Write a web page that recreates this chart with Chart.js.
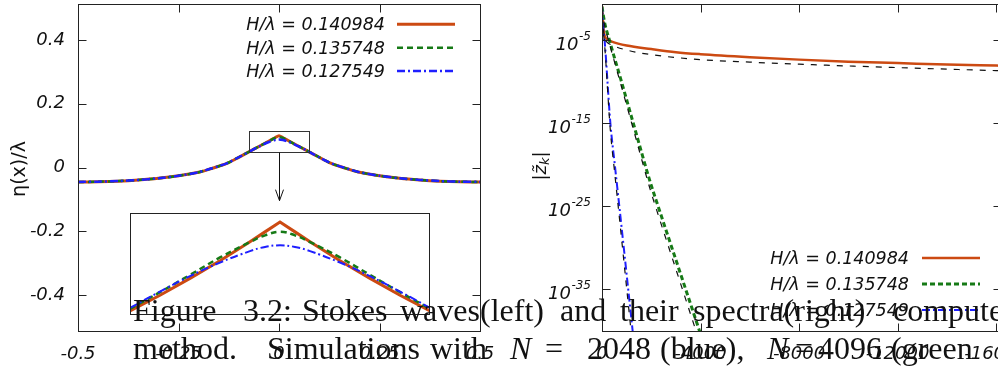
<!DOCTYPE html>
<html lang="en">
<head>
<meta charset="UTF-8">
<title>Stokes waves and spectra</title>
<style>
  html, body { margin: 0; padding: 0; background: #fff; }
  #wrap { position: relative; width: 998px; height: 368px; overflow: hidden; }
  canvas { position: absolute; }
  #waveCanvas { left: 0; top: 0; }
  #insetCanvas { left: 130px; top: 213px; }
  #specCanvas { left: 500px; top: 0; }
  .cap {
    position: absolute; white-space: nowrap; color: #111;
    font-family: "Liberation Serif", serif; font-size: 32px; line-height: 32px;
  }
  .l1 { top: 294px; }
  .l2 { top: 332px; }
  .cap i { font-style: italic; }
</style>
</head>
<body>
<div id="wrap">
  <canvas id="waveCanvas" width="500" height="368"></canvas>
  <canvas id="insetCanvas" width="300" height="102"></canvas>
  <canvas id="specCanvas" width="504" height="368"></canvas>

  <span class="cap l1" style="left:133px">Figure</span>
  <span class="cap l1" style="left:243px">3.2:</span>
  <span class="cap l1" style="left:302px">Stokes</span>
  <span class="cap l1" style="left:400px">waves(left)</span>
  <span class="cap l1" style="left:560px">and</span>
  <span class="cap l1" style="left:620px">their</span>
  <span class="cap l1" style="left:693px">spectra(right)</span>
  <span class="cap l1" style="left:893px">computed</span>

  <span class="cap l2" style="left:133px">method.</span>
  <span class="cap l2" style="left:267px">Simulations</span>
  <span class="cap l2" style="left:430px">with</span>
  <span class="cap l2" style="left:510px"><i>N</i></span>
  <span class="cap l2" style="left:545px">=</span>
  <span class="cap l2" style="left:587px">2048</span>
  <span class="cap l2" style="left:660px">(blue),</span>
  <span class="cap l2" style="left:767px"><i>N</i></span>
  <span class="cap l2" style="left:795px">=</span>
  <span class="cap l2" style="left:818px">4096</span>
  <span class="cap l2" style="left:891px">(green</span>
</div>

<script src="https://cdn.jsdelivr.net/npm/chart.js@4"></script>
<script>
// ---- wave profiles (left) ----
const waveX = [-0.5,-0.45,-0.4,-0.35,-0.3,-0.25,-0.2,-0.175,-0.15,-0.125,-0.1,-0.075,-0.05,-0.025,-0.01,0,
               0.01,0.025,0.05,0.075,0.1,0.125,0.15,0.175,0.2,0.25,0.3,0.35,0.4,0.45,0.5];
const waveRed   = [-0.0455,-0.0448,-0.0428,-0.0392,-0.0340,-0.0262,-0.0150,-0.0060,0.0040,0.0155,0.0320,0.0490,0.0660,0.0830,0.0932,0.1000,
                   0.0932,0.0830,0.0660,0.0490,0.0320,0.0155,0.0040,-0.0060,-0.0150,-0.0262,-0.0340,-0.0392,-0.0428,-0.0448,-0.0455];
const waveGreen = [-0.0454,-0.0447,-0.0427,-0.0391,-0.0339,-0.0261,-0.0149,-0.0059,0.0041,0.0157,0.0322,0.0492,0.0662,0.0825,0.0925,0.0950,
                   0.0925,0.0825,0.0662,0.0492,0.0322,0.0157,0.0041,-0.0059,-0.0149,-0.0261,-0.0339,-0.0391,-0.0427,-0.0447,-0.0454];
const waveBlue  = [-0.0452,-0.0445,-0.0425,-0.0389,-0.0337,-0.0259,-0.0147,-0.0057,0.0043,0.0158,0.0322,0.0490,0.0655,0.0800,0.0862,0.0880,
                   0.0862,0.0800,0.0655,0.0490,0.0322,0.0158,0.0043,-0.0057,-0.0147,-0.0259,-0.0337,-0.0389,-0.0425,-0.0445,-0.0452];
const waveXTicks = [-0.5,-0.25,0,0.25,0.5];
const waveYTicks = [-0.4,-0.2,0,0.2,0.4];

// zoomed crest (inset)
const insetX     = [-0.075,-0.06,-0.045,-0.03,-0.015,-0.0075,0,0.0075,0.015,0.03,0.045,0.06,0.075];
const insetRed   = [0.0513,0.0600,0.0693,0.0790,0.0895,0.0949,0.1003,0.0949,0.0895,0.0790,0.0693,0.0600,0.0513];
const insetGreen = [0.0525,0.0617,0.0712,0.0808,0.0893,0.0930,0.0950,0.0930,0.0893,0.0808,0.0712,0.0617,0.0525];
const insetBlue  = [0.0530,0.0620,0.0705,0.0780,0.0843,0.0866,0.0875,0.0866,0.0843,0.0780,0.0705,0.0620,0.0530];
const zoomBoxX = [-0.075, 0.075];
const zoomBoxY = [0.050, 0.113];
const arrowTipY = -0.104;

// ---- spectra (right), values stored as log10 ----
const redK      = [0,-50,-100,-200,-400,-1000,-2000,-3000,-4000,-6000,-8000,-10000,-12000,-14000,-16000,-16500];
const redExp    = [-0.9,-3.2,-4.4,-4.88,-5.18,-5.66,-6.08,-6.45,-6.69,-7.05,-7.35,-7.6,-7.77,-7.95,-8.07,-8.1];
const fitRedK   = [-50,-100,-200,-400,-1000,-2000,-4000,-6000,-8000,-12000,-16000,-16500];
const fitRedExp = [-3.6,-4.76,-5.24,-5.6,-6.2,-6.75,-7.35,-7.65,-7.9,-8.31,-8.67,-8.71];
const greenK      = [0,-100,-300,-800,-1270,-1970,-2290,-2850,-3400,-3960,-4500];
const greenExp    = [-1.0,-2.8,-5.0,-10.1,-15,-22.2,-25.1,-30.1,-35,-40,-44.8];
const fitGreenExp = [-1.2,-3.1,-5.4,-10.7,-15.7,-23.1,-26.1,-31.2,-36.2,-41.3,-46.2];
const blueK      = [0,-50,-105,-340,-520,-700,-885,-1065,-1245,-1500];
const blueExp    = [-1.0,-3.5,-5.0,-15,-20,-24.9,-30,-35,-40,-47];
const fitBlueExp = [-1.2,-3.8,-5.5,-15.9,-21.1,-26.2,-31.5,-36.7,-41.9,-49];
const specXTicks = [0,-4000,-8000,-12000,-16000];
const specYTicks = [1e-5,1e-15,1e-25,1e-35];

const labels = ['H/\u03bb = 0.140984','H/\u03bb = 0.135748','H/\u03bb = 0.127549'];

const RED = '#cc4a12', GREEN = '#167a16', BLUE = '#1f1fff';
const TICKFONT = { family: 'DejaVu Sans', size: 18, style: 'italic' };

const pts = (xs, ys) => xs.map((x, i) => ({ x: x, y: ys[i] }));
const pow = (xs, es) => xs.map((x, i) => ({ x: x, y: Math.pow(10, es[i]) }));

// gnuplot-like frame with inward ticks on all four sides
const frameTicks = {
  id: 'frameTicks',
  afterDatasetsDraw(chart) {
    const { ctx, chartArea: a, scales } = chart;
    const L = Math.round(a.left) + 0.5, R = Math.round(a.right) + 0.5;
    const T = Math.round(a.top) + 0.5, B = Math.round(a.bottom) + 0.5;
    ctx.save();
    ctx.strokeStyle = '#222'; ctx.lineWidth = 1; ctx.setLineDash([]);
    ctx.strokeRect(L, T, R - L, B - T);
    ctx.beginPath();
    scales.x.ticks.forEach(t => {
      const p = Math.round(scales.x.getPixelForValue(t.value)) + 0.5;
      ctx.moveTo(p, B); ctx.lineTo(p, B - 8);
      ctx.moveTo(p, T); ctx.lineTo(p, T + 8);
    });
    scales.y.ticks.forEach(t => {
      const p = Math.round(scales.y.getPixelForValue(t.value)) + 0.5;
      ctx.moveTo(L, p); ctx.lineTo(L + 8, p);
      ctx.moveTo(R, p); ctx.lineTo(R - 8, p);
    });
    ctx.stroke();
    ctx.restore();
  }
};

function makeLegend(textRight, lineFrom, lineTo, rows) {
  return {
    id: 'gpLegend',
    afterDatasetsDraw(chart) {
      const ctx = chart.ctx;
      ctx.save();
      ctx.font = 'italic 17.5px "DejaVu Sans"';
      ctx.textAlign = 'right';
      ctx.fillStyle = '#111';
      rows.forEach((y, i) => {
        const ds = chart.data.datasets[i];
        ctx.fillText(ds.label, textRight, y + 6);
        ctx.beginPath();
        ctx.setLineDash(ds.borderDash || []);
        ctx.strokeStyle = ds.borderColor;
        ctx.lineWidth = ds.borderWidth;
        ctx.moveTo(lineFrom, y); ctx.lineTo(lineTo, y);
        ctx.stroke();
      });
      ctx.restore();
    }
  };
}

const zoomMarks = {
  id: 'zoomMarks',
  afterDatasetsDraw(chart) {
    const { ctx, scales: { x, y } } = chart;
    const x0 = Math.round(x.getPixelForValue(zoomBoxX[0])) + 0.5;
    const x1 = Math.round(x.getPixelForValue(zoomBoxX[1])) + 0.5;
    const y0 = Math.round(y.getPixelForValue(zoomBoxY[1])) + 0.5;
    const y1 = Math.round(y.getPixelForValue(zoomBoxY[0])) + 0.5;
    const cx = Math.round(x.getPixelForValue(0)) + 0.5;
    const tip = y.getPixelForValue(arrowTipY);
    ctx.save();
    ctx.strokeStyle = '#333'; ctx.lineWidth = 1;
    ctx.strokeRect(x0, y0, x1 - x0, y1 - y0);
    ctx.strokeStyle = '#111';
    ctx.beginPath();
    ctx.moveTo(cx, y1); ctx.lineTo(cx, tip);
    ctx.moveTo(cx - 4, tip - 11); ctx.lineTo(cx, tip); ctx.lineTo(cx + 4, tip - 11);
    ctx.stroke();
    // y axis title
    ctx.translate(20, 169); ctx.rotate(-Math.PI / 2);
    ctx.font = '19px "DejaVu Sans"'; ctx.fillStyle = '#111';
    ctx.textAlign = 'center'; ctx.textBaseline = 'middle';
    ctx.fillText('\u03b7(x)/\u03bb', 0, 0);
    ctx.restore();
  }
};

const specLabels = {
  id: 'specLabels',
  afterDraw(chart) {
    const { ctx, scales: { y } } = chart;
    const right = 91;
    ctx.save();
    ctx.fillStyle = '#111';
    ctx.textAlign = 'left';
    specYTicks.forEach(v => {
      const p = y.getPixelForValue(v);
      const ex = String(Math.round(Math.log10(v)));
      ctx.font = 'italic 12px "DejaVu Sans"';
      const we = ctx.measureText(ex).width;
      ctx.fillText(ex, right - we, p - 0.5);
      ctx.font = 'italic 18px "DejaVu Sans"';
      const wb = ctx.measureText('10').width;
      ctx.fillText('10', right - we - wb - 0.5, p + 9.5);
    });
    // y axis title |z~_k|
    ctx.translate(40, 166); ctx.rotate(-Math.PI / 2);
    ctx.font = 'italic 18px "DejaVu Sans"';
    const a = '|z\u0303', k = 'k', b = '|';
    const wa = ctx.measureText(a).width, wb2 = ctx.measureText(b).width;
    ctx.font = 'italic 13px "DejaVu Sans"';
    const wk = ctx.measureText(k).width;
    const x0 = -(wa + wk + wb2) / 2;
    ctx.font = 'italic 18px "DejaVu Sans"';
    ctx.fillText(a, x0, 6);
    ctx.font = 'italic 13px "DejaVu Sans"';
    ctx.fillText(k, x0 + wa, 9);
    ctx.font = 'italic 18px "DejaVu Sans"';
    ctx.fillText(b, x0 + wa + wk, 6);
    ctx.restore();
  }
};

function fixScale(w, h) {
  return s => {
    if (w !== null) s.width = w;
    if (h !== null) s.height = h;
    s.paddingTop = 0; s.paddingBottom = 0; s.paddingLeft = 0; s.paddingRight = 0;
  };
}

const lineDs = (label, data, color, width, dash, order, tension, mono) => ({
  label: label, data: data, borderColor: color, borderWidth: width, borderDash: dash,
  pointRadius: 0, fill: false, tension: tension || 0, order: order,
  cubicInterpolationMode: mono ? 'monotone' : 'default'
});

// left: wave profiles
new Chart(document.getElementById('waveCanvas'), {
  type: 'line',
  data: { datasets: [
    lineDs(labels[0], pts(waveX, waveRed), RED, 3, [], 3, 0.25),
    lineDs(labels[1], pts(waveX, waveGreen), GREEN, 2.5, [6, 4], 2, 0.3),
    lineDs(labels[2], pts(waveX, waveBlue), BLUE, 2.5, [8, 3, 2, 3], 1, 0.3)
  ] },
  options: {
    responsive: false, animation: false, devicePixelRatio: 1,
    layout: { padding: { top: 4, right: 20, left: 0, bottom: 0 } },
    plugins: { legend: { display: false }, tooltip: { enabled: false } },
    scales: {
      x: {
        type: 'linear', min: -0.5, max: 0.5,
        afterBuildTicks: s => { s.ticks = waveXTicks.map(v => ({ value: v })); },
        afterFit: fixScale(null, 37),
        grid: { display: false, drawTicks: false }, border: { display: false },
        ticks: { font: TICKFONT, color: '#111', padding: 13, maxRotation: 0, callback: v => String(v) }
      },
      y: {
        min: -0.513, max: 0.513,
        afterBuildTicks: s => { s.ticks = waveYTicks.map(v => ({ value: v })); },
        afterFit: fixScale(78, null),
        grid: { display: false, drawTicks: false }, border: { display: false },
        ticks: { font: TICKFONT, color: '#111', padding: 13, callback: v => String(v) }
      }
    }
  },
  plugins: [frameTicks, zoomMarks, makeLegend(385, 397, 455, [24.3, 47.7, 71])]
});

// inset: zoomed crest
new Chart(document.getElementById('insetCanvas'), {
  type: 'line',
  data: { datasets: [
    lineDs(labels[0], pts(insetX, insetRed), RED, 3, [], 3),
    lineDs(labels[1], pts(insetX, insetGreen), GREEN, 2.5, [6, 4], 2, 0.4),
    lineDs(labels[2], pts(insetX, insetBlue), BLUE, 2, [8, 3, 2, 3], 1, 0.4)
  ] },
  options: {
    responsive: false, animation: false, devicePixelRatio: 1,
    layout: { padding: 0 },
    plugins: { legend: { display: false }, tooltip: { enabled: false } },
    scales: {
      x: { type: 'linear', display: false, min: -0.075, max: 0.075 },
      y: { display: false, min: 0.0491, max: 0.1053 }
    }
  },
  plugins: [{
    id: 'insetFrame',
    afterDatasetsDraw(chart) {
      const ctx = chart.ctx;
      ctx.save(); ctx.strokeStyle = '#222'; ctx.lineWidth = 1; ctx.setLineDash([]);
      ctx.strokeRect(0.5, 0.5, chart.width - 1, chart.height - 1);
      ctx.restore();
    }
  }]
});

// right: spectra
new Chart(document.getElementById('specCanvas'), {
  type: 'line',
  data: { datasets: [
    lineDs(labels[0], pow(redK, redExp), RED, 2.5, [], 3, 0, true),
    lineDs(labels[1], pow(greenK, greenExp), GREEN, 3, [5, 3], 2, 0, true),
    lineDs(labels[2], pow(blueK, blueExp), BLUE, 2, [8, 3, 2, 3], 1, 0, true),
    lineDs('fit 1', pow(fitRedK, fitRedExp), '#111', 1.2, [6, 7], 0, 0, true),
    lineDs('fit 2', pow(greenK, fitGreenExp), '#111', 1.2, [6, 7], 0, 0, true),
    lineDs('fit 3', pow(blueK, fitBlueExp), '#111', 1.2, [6, 7], 0, 0, true)
  ] },
  options: {
    responsive: false, animation: false, devicePixelRatio: 1,
    layout: { padding: { top: 4, right: 3, left: 0, bottom: 0 } },
    plugins: { legend: { display: false }, tooltip: { enabled: false } },
    scales: {
      x: {
        type: 'linear', reverse: true, min: -16200, max: 0,
        afterBuildTicks: s => { s.ticks = specXTicks.map(v => ({ value: v })); },
        afterFit: fixScale(null, 37),
        grid: { display: false, drawTicks: false }, border: { display: false },
        ticks: { font: TICKFONT, color: '#111', padding: 13, maxRotation: 0, callback: v => String(v) }
      },
      y: {
        type: 'logarithmic', min: 1e-40, max: 0.22,
        afterBuildTicks: s => { s.ticks = specYTicks.map(v => ({ value: v })); },
        afterFit: fixScale(102, null),
        grid: { display: false, drawTicks: false }, border: { display: false },
        ticks: { display: false }
      }
    }
  },
  plugins: [frameTicks, specLabels, makeLegend(409, 422, 480, [258, 284, 310])]
});
</script>
</body>
</html>
